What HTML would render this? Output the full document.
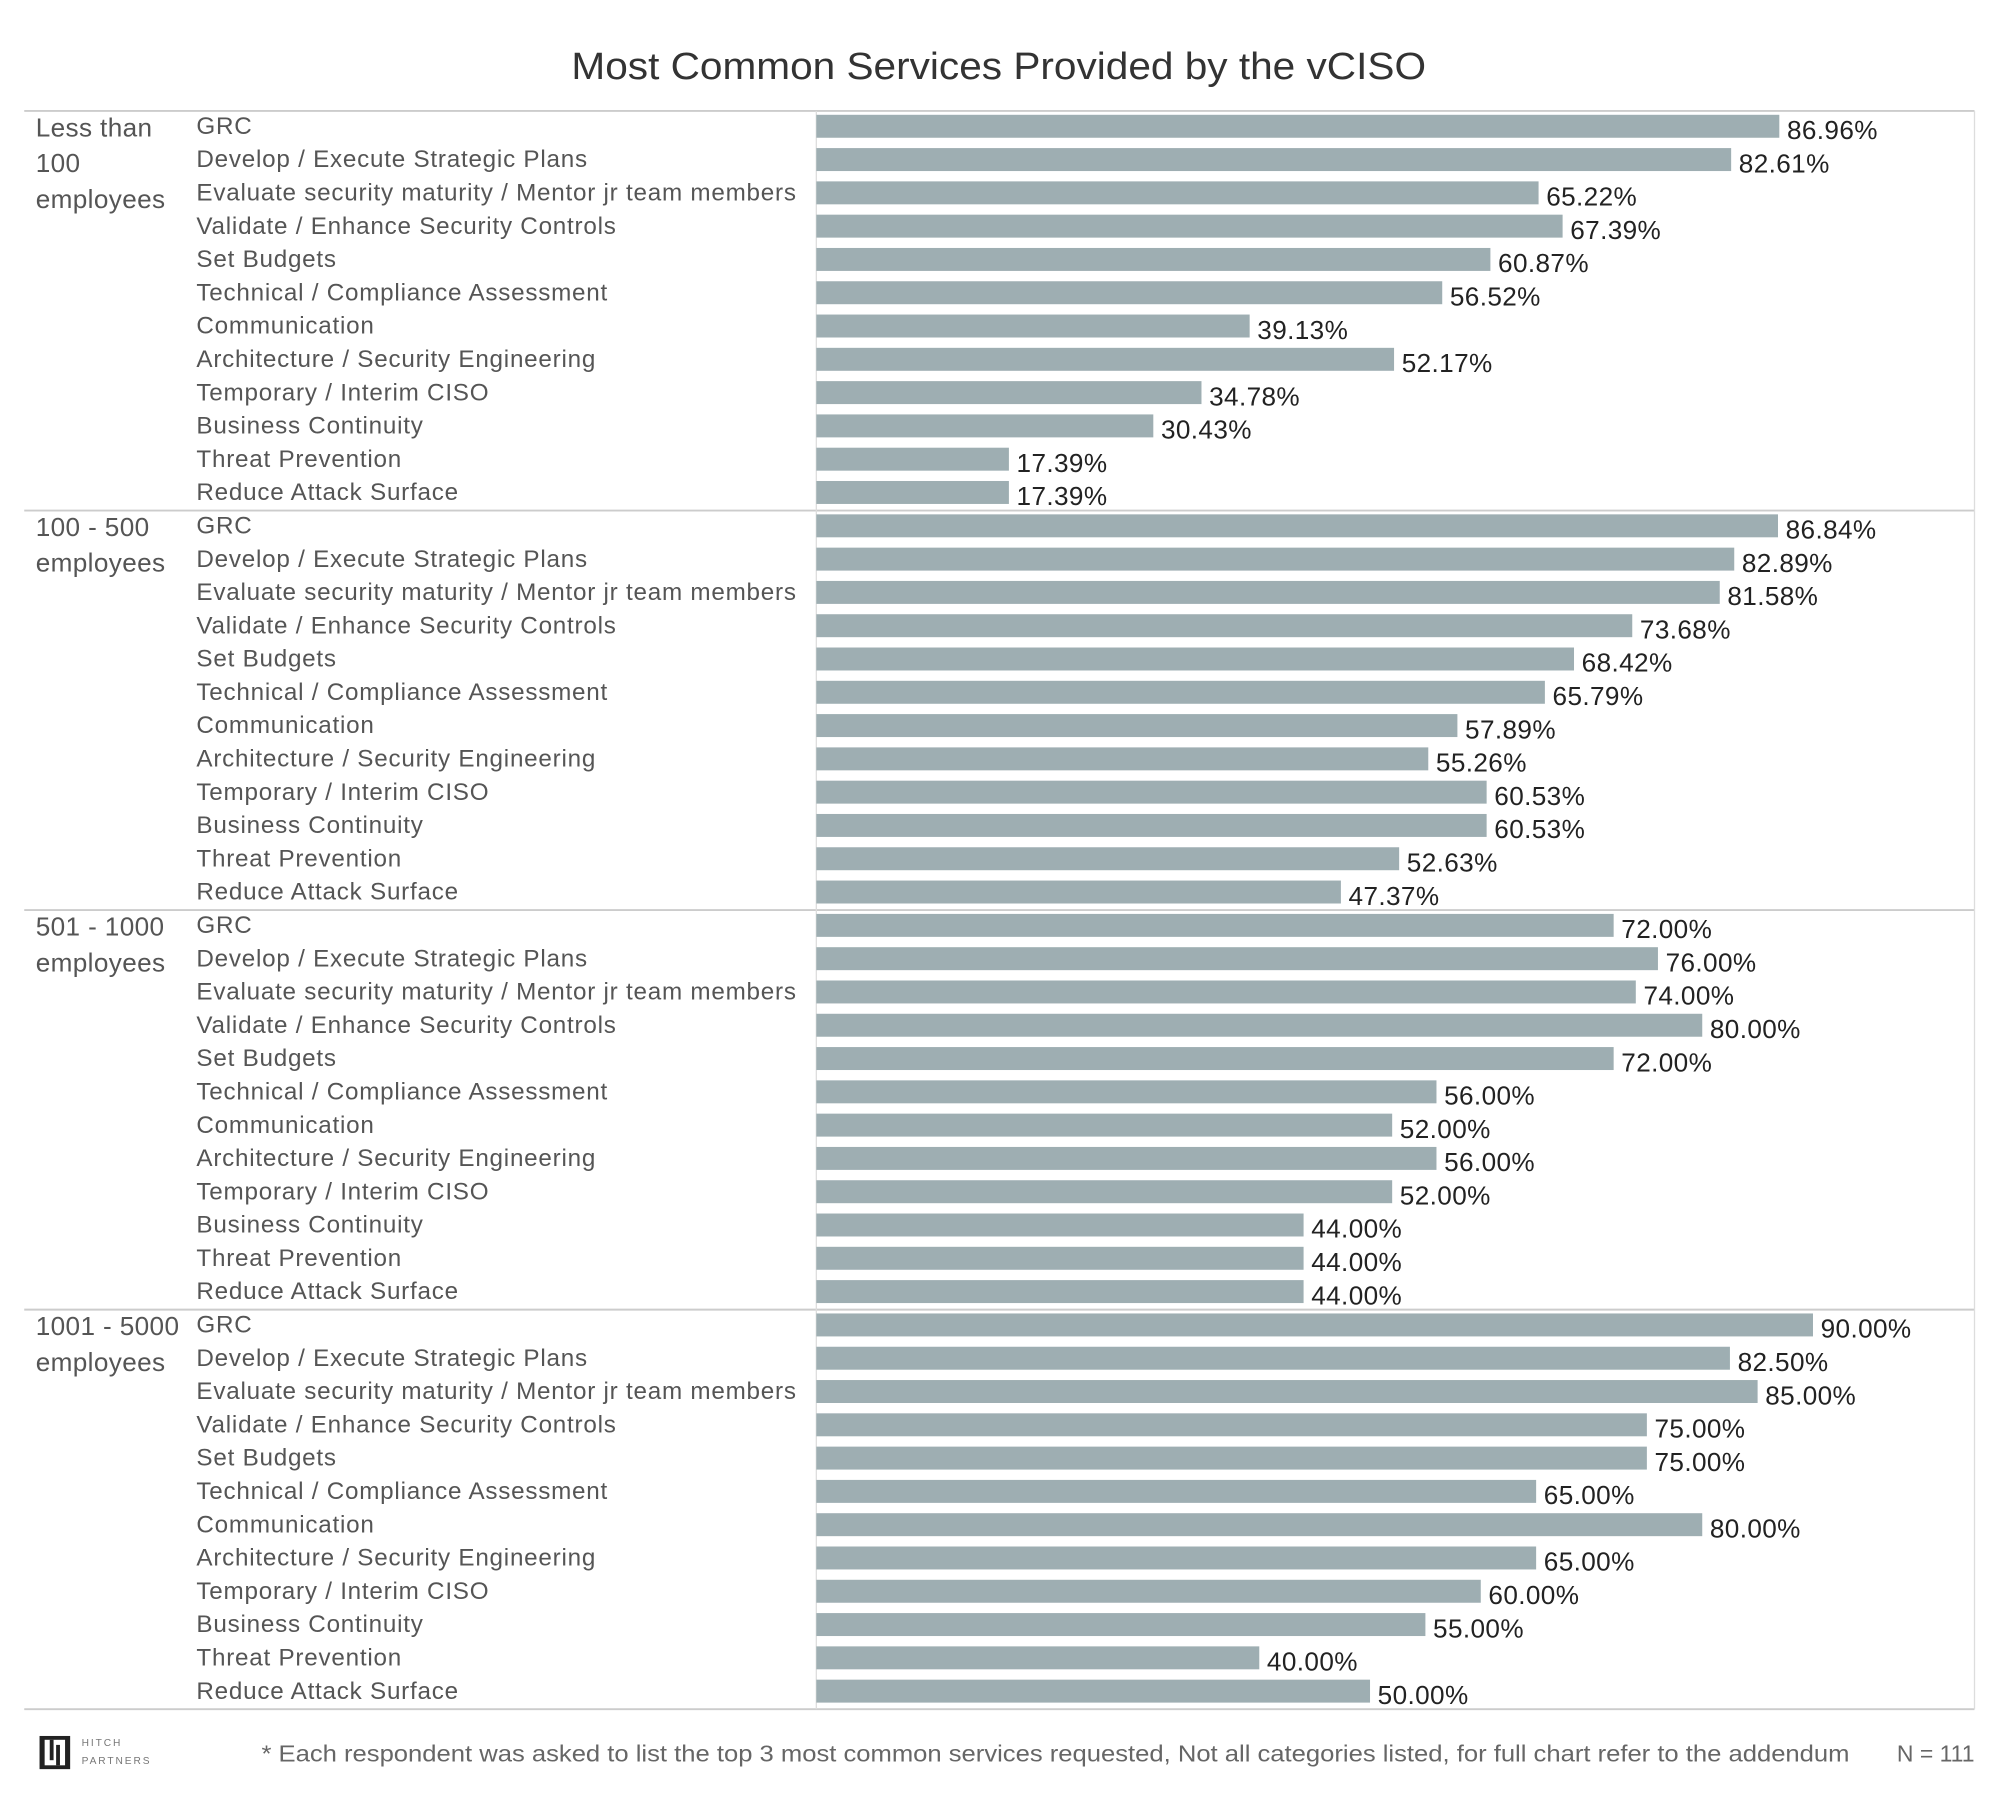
<!DOCTYPE html>
<html><head><meta charset="utf-8"><style>
html,body{margin:0;padding:0;background:#fff;}
svg{display:block;font-family:"Liberation Sans Narrow","Liberation Sans",sans-serif;}
</style></head><body>
<svg id="chart" width="2000" height="1800" viewBox="0 0 1568 1411.2" xmlns="http://www.w3.org/2000/svg">
<rect x="0" y="0" width="1568" height="1411.2" fill="#fff"/>
<text x="783" y="62" text-anchor="middle" font-size="30" textLength="670" lengthAdjust="spacingAndGlyphs" fill="#333" font-family="Liberation Sans, sans-serif">Most Common Services Provided by the vCISO</text>
<g id="grid"></g>
<g id="bars"></g>
<g id="labels"></g>
<g>
<rect x="31" y="1361" width="24" height="26" fill="#222"/>
<rect x="35" y="1364" width="16" height="20" fill="#fff"/>
<rect x="39" y="1364" width="3" height="16" fill="#222"/>
<rect x="44" y="1368" width="3" height="16" fill="#222"/>
<text x="64" y="1369" font-size="8" fill="#777" letter-spacing="1.5" font-family="Liberation Sans, sans-serif">HITCH</text>
<text x="64" y="1383" font-size="8" fill="#777" letter-spacing="1.5" font-family="Liberation Sans, sans-serif">PARTNERS</text>
</g>
<text x="205" y="1381" font-size="18" fill="#666" textLength="1245" lengthAdjust="spacingAndGlyphs">* Each respondent was asked to list the top 3 most common services requested,  Not all categories listed, for full chart refer to the addendum</text>
<text x="1548" y="1381" font-size="18" fill="#666" text-anchor="end">N = 111</text>
</svg>
<script>
const groups = [["Less than","100","employees"],["100 - 500","employees"],["501 - 1000","employees"],["1001 - 5000","employees"]];
const categories = ["GRC","Develop / Execute Strategic Plans","Evaluate security maturity / Mentor jr team members","Validate / Enhance Security Controls","Set Budgets","Technical / Compliance Assessment","Communication","Architecture / Security Engineering","Temporary / Interim CISO","Business Continuity","Threat Prevention","Reduce Attack Surface"];
const valuesLt100 = [86.96,82.61,65.22,67.39,60.87,56.52,39.13,52.17,34.78,30.43,17.39,17.39];
const values100to500 = [86.84,82.89,81.58,73.68,68.42,65.79,57.89,55.26,60.53,60.53,52.63,47.37];
const values501to1000 = [72.00,76.00,74.00,80.00,72.00,56.00,52.00,56.00,52.00,44.00,44.00,44.00];
const values1001to5000 = [90.00,82.50,85.00,75.00,75.00,65.00,80.00,65.00,60.00,55.00,40.00,50.00];
const series = [valuesLt100, values100to500, values501to1000, values1001to5000];

const NS = "http://www.w3.org/2000/svg";
const X0 = 640, PX_PER = 8.682;
const xScale = v => X0 + v * PX_PER;
const G_TOP = 87, G_H = 313.25, ROW = 26.1;
const yRow = (g, i) => G_TOP + g * G_H + 3 + i * ROW;
function mk(tag, attrs, parent) { const e = document.createElementNS(NS, tag); for (const k in attrs) e.setAttribute(k, attrs[k]); parent.appendChild(e); return e; }
const grid = document.getElementById('grid'), barsG = document.getElementById('bars'), labG = document.getElementById('labels');

for (let g = 0; g <= groups.length; g++) {
  const y = G_TOP + g * G_H;
  const l = mk('line', {x1: 19, x2: 1548, y1: y, y2: y, stroke: '#ccc', 'stroke-width': 1.5}, grid);
  
  
}
const vl = mk('line', {x1: 640, x2: 640, y1: G_TOP, y2: G_TOP + 4 * G_H, stroke: '#ddd', 'stroke-width': 1}, grid);


const rl = mk('line', {x1: 1548, x2: 1548, y1: G_TOP, y2: G_TOP + 4 * G_H, stroke: '#ddd', 'stroke-width': 1}, grid);



groups.forEach((lines, g) => {
  lines.forEach((t, k) => {
    const e = mk('text', {x: 28, y: G_TOP + g * G_H + 20 + k * 28, 'font-size': 20.5, 'letter-spacing': 0.3, fill: '#555'}, labG);
    e.textContent = t;
    
    
  });
  categories.forEach((c, i) => {
    const y = yRow(g, i);
    const ct = mk('text', {x: 154, y: y + 15, 'font-size': 19, 'letter-spacing': 0.6, fill: '#555'}, labG);
    ct.textContent = c;
    
    
    const v = series[g][i];
    const r = mk('rect', {x: X0, y: y, width: xScale(v) - X0, height: 18, fill: '#9eaeb2'}, barsG);
    
    
    const vt = mk('text', {x: xScale(v) + 6, y: y + 19, 'font-size': 20.5, 'letter-spacing': 0.3, fill: '#222'}, labG);
    vt.textContent = v.toFixed(2) + '%';
    
    
  });
});
</script>
</body></html>
